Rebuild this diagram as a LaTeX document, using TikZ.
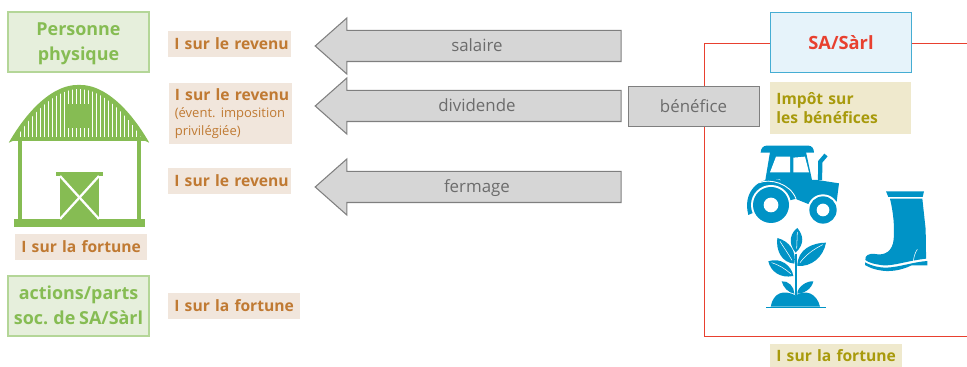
\documentclass[tikz,border=0pt]{standalone}
\usepackage{fontspec}
\setmainfont[WordSpace=0.8]{Open Sans}
\usepackage{xcolor}
\usetikzlibrary{shapes.arrows}
\definecolor{barn_green}{HTML}{86BC53}
\definecolor{pale_green}{HTML}{E6EFDC}
\definecolor{line_green}{HTML}{B4D698}
\definecolor{tag_beige}{HTML}{F1E6DC}
\definecolor{tag_orange}{HTML}{C07A33}
\definecolor{tag_sand}{HTML}{EFE9CD}
\definecolor{tag_olive}{HTML}{A89A0C}
\definecolor{icon_blue}{HTML}{0093C6}
\definecolor{pale_blue}{HTML}{E6F3FA}
\definecolor{line_blue}{HTML}{45ADD3}
\definecolor{line_red}{HTML}{E8402F}
\definecolor{flow_gray}{HTML}{D6D6D6}
\definecolor{line_gray}{HTML}{7F7F7F}
\definecolor{text_gray}{HTML}{6C6C6C}
\newcommand{\boxstrut}{\rule{0pt}{11.6pt}}

\begin{document}
\begin{tikzpicture}[
            x=0.02cm, y=-0.02cm,
            every node/.style={inner xsep=0.12cm, inner ysep=0pt, align=center}
        ]
        \tikzstyle {green_box} = [draw=line_green, line width=0.7pt, fill=pale_green, text=barn_green,
            font=\fontsize{10.2}{14.2}\selectfont\bfseries, minimum width=2.82cm, minimum height=1.2cm]
        \tikzstyle {orange_tag} = [anchor=west, fill=tag_beige, text=tag_orange, align=left, text width=2.22cm,
            font=\fontsize{8.9}{10}\selectfont\bfseries, minimum height=0.52cm]
        \tikzstyle {olive_tag} = [anchor=west, fill=tag_sand, text=tag_olive, align=left, text width=2.58cm,
            font=\fontsize{8.9}{11.2}\selectfont\bfseries, minimum height=0.52cm]
        \tikzstyle {flow_arrow} = [single arrow, anchor=tip, shape border rotate=180, draw=line_gray, fill=flow_gray,
            line width=0.6pt, text=text_gray, font=\fontsize{9.6}{12}\selectfont, single arrow tip angle=83,
            minimum width=1.1cm, minimum height=6.12cm, inner xsep=0pt, text height=0.42cm, text depth=0.18cm]
        \tikzstyle {red_line} = [draw=line_red, line width=0.55pt]
        \tikzstyle {barn_line} = [draw=barn_green, line width=2.2pt]

        \useasboundingbox (0,0) rectangle (967,367);

        % company and its border
        \node [draw=line_blue, line width=0.6pt, fill=pale_blue, text=line_red, minimum width=2.82cm, minimum height=1.2cm,
            font=\fontsize{10.4}{12}\selectfont\bfseries] (sa) at (841,42.5) {SA/Sàrl};
        \coordinate (corner_top) at (704,43);
        \coordinate (corner_bottom) at (704,336);
        \coordinate (end_top) at (967,43);
        \coordinate (end_bottom) at (967,336);
        \draw [red_line] (sa.west |- corner_top) -- (corner_top) -- (corner_bottom) -- (end_bottom);
        \draw [red_line] (sa.east |- end_top) -- (end_top);

        \node [draw=line_gray, line width=0.55pt, fill=flow_gray, text=text_gray, minimum width=2.62cm, minimum height=0.8cm,
            font=\fontsize{9.6}{12}\selectfont] (benefice) at (693.5,106) {bénéfice};

        % flows
        \node [flow_arrow] (salaire) at (314.4,46) {salaire};
        \node [flow_arrow] (dividende) at (314.4,106) {dividende};
        \node [flow_arrow] (fermage) at (314.4,187) {fermage};

        % left side
        \node [green_box] (personne) at (78.5,42) {\boxstrut Personne\strut\\physique\strut};
        \node [green_box] (actions) at (78.5,306) {\boxstrut actions/parts\strut\\soc. de SA/Sàrl\strut};
        \node [orange_tag] (tag_salaire) at (168,44) {\mbox{I sur le revenu}};
        \node [orange_tag, minimum height=1.22cm] (tag_dividende) at (168.5,113.5)
            {\mbox{I sur le revenu}\\{\fontsize{7.4}{10}\selectfont\mdseries \mbox{(évent.\ imposition}\\privilégiée)}};
        \node [orange_tag] (tag_fermage) at (168,181) {\mbox{I sur le revenu}};
        \node [orange_tag, text width=2.4cm] (tag_barn) at (15,247) {\mbox{I sur la fortune}};
        \node [orange_tag, text width=2.4cm] (tag_actions) at (168,306) {\mbox{I sur la fortune}};

        % right side
        \node [olive_tag, minimum height=1.04cm] (tag_impot) at (770,108) {Impôt sur\\les bénéfices};
        \node [olive_tag, text width=2.4cm, minimum height=0.46cm] (tag_capital) at (770,355.5) {\mbox{I sur la fortune}};

        % barn
        \begin{scope}
            \fill [barn_green, rounded corners=1pt] (8,144) .. controls (30,106) and (55,85) .. (79,85)
                .. controls (103,85) and (128,106) .. (150,144) -- (147,141) -- (11,141) -- cycle;
            \clip (17,137) .. controls (35,109) and (58,89) .. (79,89) .. controls (100,89) and (123,109) .. (141,137) -- cycle;
            \foreach \n in {0,...,30}
                \fill [white] (19.5+4*\n,85) rectangle +(1.7,60);
        \end{scope}
        \fill [barn_green] (68,104) rectangle (90,128);
        \draw [barn_line] (20,141) -- (20,220);
        \draw [barn_line] (139,141) -- (139,220);
        \fill [barn_green] (14,219) rectangle (145,227);
        \fill [barn_green] (56,172) rectangle (103,176);
        \fill [barn_green] (60,176) rectangle (99,219);
        \draw [white, line width=1.3pt] (60,176) -- (99,219);
        \draw [white, line width=1.3pt] (99,176) -- (60,219);

        % tractor
        \begin{scope}[shift={(740,140)}, x=0.00667cm, y=-0.00667cm]
            \fill [icon_blue] (62,38) .. controls (62,25) and (70,17) .. (80,17) -- (205,17) .. controls (215,17) and (222,25) .. (222,38) -- cycle;
            \fill [icon_blue] (90,36) -- (76,120) -- (120,118) -- (170,178) -- (205,192) -- (290,185) -- (297,130) -- (232,120) -- (216,120) -- (198,36) -- cycle;
            \fill [white] (108,50) -- (150,50) -- (150,97) -- (90,97) -- cycle;
            \fill [white] (160,53) -- (195,50) -- (207,97) -- (160,97) -- cycle;
            \draw [icon_blue, line width=2.4pt] (240,120) -- (241,65) -- (258,45);
            \fill [icon_blue] (25,225) .. controls (8,160) and (50,117) .. (100,117) .. controls (135,117) and (165,145) .. (170,176) -- (92,195) -- cycle;
            \draw [white, line width=0.5pt] (58,128) .. controls (90,115) and (150,130) .. (168,176);
            \fill [white] (93,195) circle [radius=0.4cm];
            \fill [icon_blue] (93,195) circle [radius=0.36cm];
            \fill [white] (93,195) circle [radius=0.147cm];
            \fill [white] (249,210) circle [radius=0.313cm];
            \fill [icon_blue] (249,210) circle [radius=0.273cm];
            \fill [white] (249,210) circle [radius=0.127cm];
        \end{scope}

        % plant
        \begin{scope}[shift={(760,222)}, x=0.00667cm, y=-0.00667cm]
            \fill [icon_blue] (18,254) rectangle (197,258);
            \fill [icon_blue] (32,254) .. controls (40,212) and (70,202) .. (107,220) .. controls (135,202) and (170,212) .. (180,254) -- cycle;
            \draw [icon_blue, line width=1pt] (107,95) -- (107,220);
            \fill [icon_blue] (107,92) .. controls (80,60) and (95,30) .. (112,18) .. controls (130,40) and (135,65) .. (107,92) -- cycle;
            \fill [icon_blue] (112,132) .. controls (112,80) and (160,62) .. (198,62) .. controls (190,105) and (155,135) .. (112,132) -- cycle;
            \fill [icon_blue] (103,125) .. controls (65,122) and (47,85) .. (52,48) .. controls (90,58) and (110,90) .. (103,125) -- cycle;
            \fill [icon_blue] (100,162) .. controls (60,170) and (32,148) .. (25,118) .. controls (60,105) and (95,130) .. (100,162) -- cycle;
            \fill [icon_blue] (103,215) .. controls (85,212) and (70,197) .. (65,178) .. controls (85,175) and (103,195) .. (103,215) -- cycle;
            \fill [icon_blue] (112,215) .. controls (112,195) and (140,176) .. (160,178) .. controls (155,202) and (130,215) .. (112,215) -- cycle;
            \draw [white, line width=0.3pt] (120,122) .. controls (140,95) and (165,80) .. (188,68);
            \draw [white, line width=0.3pt] (96,115) .. controls (85,95) and (70,75) .. (60,58);
            \draw [white, line width=0.3pt] (92,155) .. controls (75,140) and (55,128) .. (35,122);
            \draw [white, line width=0.3pt] (110,80) -- (112,30);
        \end{scope}

        % boot
        \begin{scope}[shift={(860,186)}, x=0.00667cm, y=-0.00667cm]
            \fill [icon_blue] (78,16) -- (192,16) -- (188,33) -- (85,33) -- cycle;
            \fill [icon_blue] (90,38) -- (187,38) -- (197,130) -- (198,200) -- (198,218) .. controls (140,225) and (100,240) .. (70,238)
                .. controls (45,235) and (25,230) .. (16,222) .. controls (15,208) and (25,202) .. (45,204) .. controls (75,210) and (98,195) .. (101,160)
                .. controls (104,120) and (100,80) .. (90,38) -- cycle;
            \fill [icon_blue] (15,229) .. controls (40,242) and (60,245) .. (80,245) .. controls (120,243) and (160,228) .. (202,225) -- (202,238) -- (155,238)
                .. controls (120,255) and (85,258) .. (60,253) .. controls (40,250) and (25,243) .. (15,237) -- cycle;
            \draw [white, line width=0.3pt] (172,190) .. controls (165,200) and (162,212) .. (160,225);
        \end{scope}
\end{tikzpicture}
\end{document}
